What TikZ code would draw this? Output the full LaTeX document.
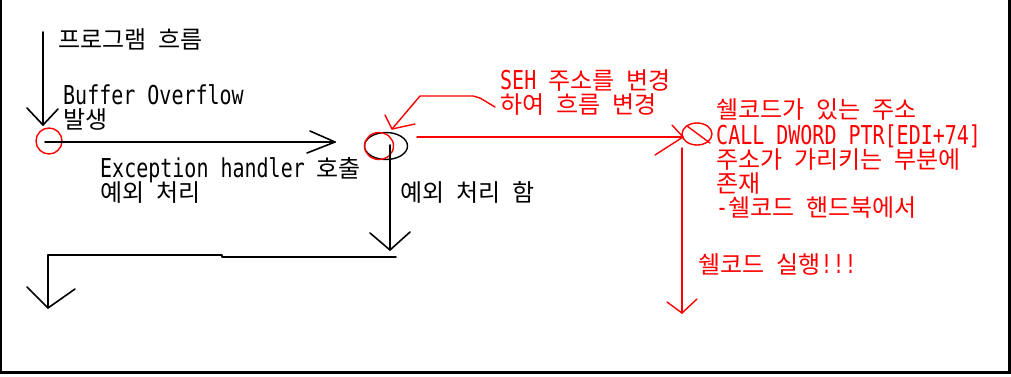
\documentclass[tikz,border=0pt]{standalone}
\usepackage{fontspec}
\setmainfont{Noto Sans CJK KR}
\newfontfamily\latfont{DejaVu Sans Mono}
\newcommand\latn[1]{{\latfont\fontsize{20}{24}\selectfont\scalebox{1}[1.3]{#1}}}
\newcommand\krfont{\fontsize{24}{24}\selectfont\spaceskip 12pt\relax}
\usetikzlibrary{shapes.geometric}
\begin{document}
\begin{tikzpicture}[x=1pt,y=-1pt,
  blk/.style={line width=1.6pt,black,line cap=round,line join=round},
  rd/.style={line width=1.4pt,red,line cap=round,line join=round},
  lbl/.style={font=\krfont,inner sep=0pt,anchor=base west,text height=19pt,text depth=1.5pt},
  rlbl/.style={lbl,text=red},
  ]
\useasboundingbox (0,0) rectangle (1011,376);
% frame
\draw[line width=2.6pt] (1,-3) -- (1,372.5) -- (1009.5,372.5) -- (1009.5,-3);

% ---- black flow ----
\coordinate (s1) at (43,32);
\coordinate (t1) at (43,125);
\coordinate (w1a) at (27,108);
\coordinate (w1b) at (58,109);
\draw[blk] (s1) -- (t1);
\draw[blk] (w1a) -- (t1) -- (w1b);

\node[draw=red,circle,minimum size=26pt,inner sep=0pt,line width=1.4pt] (bo) at (49,141) {};

\coordinate (h1) at (45,142);
\coordinate (t2) at (335,142);
\coordinate (w2a) at (310,131);
\coordinate (w2b) at (307,153);
\draw[blk] (h1) -- (t2);
\draw[blk] (w2a) -- (t2) -- (w2b);

\node[draw=black,ellipse,minimum width=43pt,minimum height=27pt,inner sep=0pt,line width=1.4pt] (eh) at (386,146) {};
\node[draw=red,ellipse,minimum width=29pt,minimum height=27pt,inner sep=0pt,line width=1.4pt] (ehr) at (379,146) {};

\coordinate (v2s) at (390,145);
\coordinate (t3) at (390,250);
\coordinate (w3a) at (370,233);
\coordinate (w3b) at (410,232);
\draw[blk] (v2s) -- (t3);
\draw[blk] (w3a) -- (t3) -- (w3b);

\coordinate (b1) at (396,257);
\coordinate (b2) at (222,257);
\coordinate (b3) at (222,255);
\coordinate (b4) at (48,255);
\coordinate (t4) at (48,308);
\coordinate (w4a) at (27,287);
\coordinate (w4b) at (75,289);
\draw[blk] (b1) -- (b2) -- (b3) -- (b4) -- (t4);
\draw[blk] (w4a) -- (t4) -- (w4b);

% ---- red flow ----
\coordinate (c0) at (495,107);
\coordinate (c1) at (480,98);
\coordinate (c2) at (473,96);
\coordinate (c3) at (420,96);
\coordinate (t5) at (392,129);
\coordinate (w5a) at (385,115);
\coordinate (w5b) at (415,124);
\draw[rd] (c0) -- (c1) -- (c2) -- (c3) -- (t5);
\draw[rd] (w5a) -- (t5) -- (w5b);

\coordinate (r1) at (417,137);
\coordinate (t6) at (683,137);
\coordinate (w6a) at (672,125);
\coordinate (w6b) at (655,155);
\draw[rd] (r1) -- (t6);
\draw[rd] (w6a) -- (t6) -- (w6b);

\node[draw=red,ellipse,minimum width=30pt,minimum height=22pt,inner sep=0pt,line width=1.4pt] (sc) at (697,134) {};
\draw[rd] (687,126) -- (710,143);

\coordinate (v3s) at (682,148);
\coordinate (t7) at (682,313);
\coordinate (w7a) at (667,302);
\coordinate (w7b) at (697,299);
\draw[rd] (v3s) -- (t7);
\draw[rd] (w7a) -- (t7) -- (w7b);

% ---- labels ----
\node[lbl] (l1) at (58,48) {프로그램 흐름};
\node[lbl] (l2) at (63,104) {\latn{Buffer Overflow}};
\node[lbl] (l3) at (63,128) {발생};
\node[lbl] (l4) at (100,177) {\latn{Exception handler} 호출};
\node[lbl] (l5) at (100,201) {예외 처리};
\node[lbl] (l6) at (400,201) {예외 처리 함};

\node[rlbl] (r1t) at (500,89) {\latn{SEH} 주소를 변경};
\node[rlbl] (r2t) at (500,113) {하여 흐름 변경};
\node[rlbl] (r3t) at (716,118) {쉘코드가 있는 주소};
\node[rlbl] (r4t) at (716,144) {\latn{CALL DWORD PTR[EDI+74]}};
\node[rlbl] (r5t) at (716,168) {주소가 가리키는 부분에};
\node[rlbl] (r6t) at (716,192) {존재};
\node[rlbl] (r7t) at (716,216) {\latn{-}쉘코드 핸드북에서};
\node[rlbl] (r8t) at (698,273) {쉘코드 실행\latn{!!!}};
\end{tikzpicture}
\end{document}
